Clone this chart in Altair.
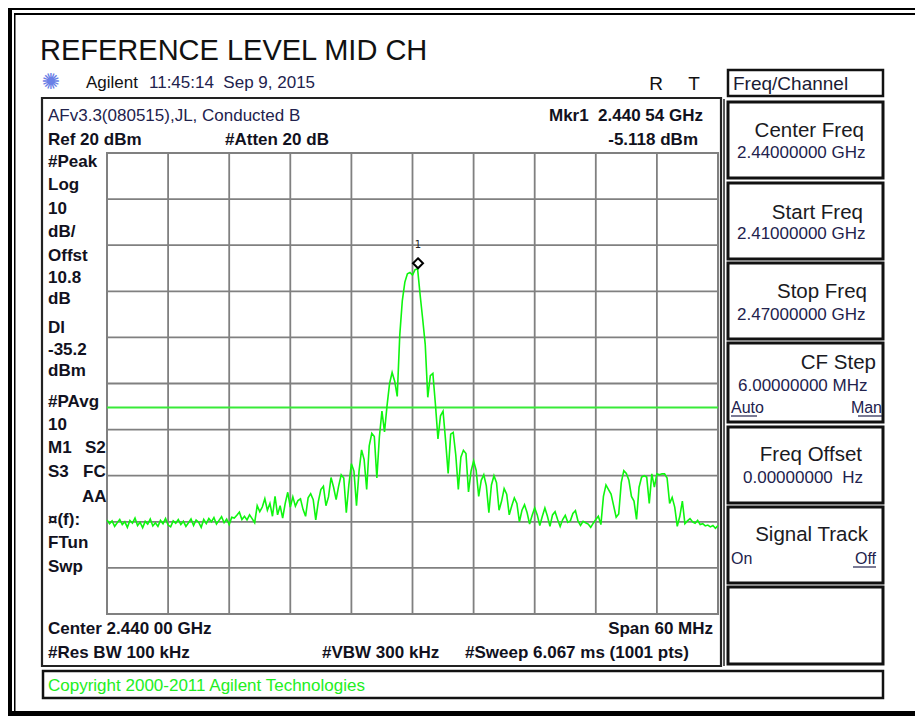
import altair as alt
import pandas as pd

START_MHZ = 2410.0
STOP_MHZ = 2470.0
STEP_MHZ = 0.25
REF_LEVEL_DBM = 20
BOTTOM_LEVEL_DBM = -80
X_GRID_MHZ = [2410, 2416, 2422, 2428, 2434, 2440, 2446, 2452, 2458, 2464, 2470]
Y_GRID_DBM = [-80, -70, -60, -50, -40, -30, -20, -10, 0, 10, 20]
DISPLAY_LINE_DBM = -35.2
MARKER_FREQ_MHZ = [2440.54]
MARKER_LEVEL_DBM = [-5.118]
MARKER_NAME = ["1"]

LEVEL_DBM = [
    -59.6, -60.4, -59.8, -61.0, -60.2, -59.5, -60.6, -60.0, -61.2, -59.7,
    -60.3, -59.2, -60.8, -60.1, -61.3, -59.9, -60.5, -59.4, -60.9, -60.2,
    -61.0, -59.7, -60.4, -59.3, -60.7, -61.1, -59.8, -60.3, -59.5, -60.6,
    -59.9, -61.0, -60.2, -59.4, -60.8, -59.6, -60.1, -61.2, -59.5, -60.4,
    -59.3, -60.0, -59.1, -60.5, -59.7, -58.9, -60.2, -59.4, -60.6, -59.0,
    -59.2, -58.6, -57.9, -59.5, -58.8, -59.6, -58.5, -59.3, -60.2, -56.5,
    -57.8, -56.8, -55.0, -57.5, -56.0, -58.8, -54.5, -58.5, -56.5, -59.2,
    -56.0, -53.6, -56.8, -54.6, -56.6, -55.4, -55.0, -57.3, -58.8, -54.8,
    -53.9, -55.2, -59.6, -55.6, -53.0, -52.3, -56.5, -54.6, -50.4, -52.5,
    -55.2, -52.2, -49.8, -50.5, -58.0, -52.0, -47.4, -49.0, -56.5, -49.0,
    -44.4, -46.5, -53.0, -43.5, -40.8, -41.5, -50.5, -41.5, -36.0, -40.5,
    -34.8, -30.0, -27.6, -29.5, -32.8, -19.5, -12.0, -8.0, -6.2, -5.9,
    -6.5, -5.3, -5.12, -10.8, -16.0, -21.5, -33.0, -28.3, -27.8, -34.5,
    -42.0, -37.0, -36.0, -42.4, -49.5, -41.0, -40.6, -45.5, -53.0, -46.0,
    -44.5, -45.2, -53.5, -49.0, -46.8, -48.8, -54.5, -51.0, -49.8, -52.2,
    -58.0, -52.0, -50.0, -51.5, -57.5, -55.5, -52.8, -54.0, -58.5, -56.5,
    -54.8, -56.0, -60.0, -57.5, -56.3, -58.0, -60.5, -58.6, -57.0, -58.5,
    -60.8, -58.8, -57.0, -58.8, -61.0, -58.5, -57.8, -59.5, -61.0, -59.5,
    -58.6, -60.1, -59.8, -58.2, -57.6, -59.8, -60.8, -59.9, -60.2, -60.5,
    -61.2, -60.3, -59.5, -58.8, -60.6, -54.5, -52.0, -53.0, -54.0, -56.5,
    -59.0, -58.3, -51.5, -48.9, -49.5, -51.0, -54.5, -55.5, -59.5, -52.5,
    -50.3, -50.0, -50.3, -56.0, -49.6, -52.5, -49.6, -49.8, -49.6, -49.6,
    -50.5, -56.0, -54.7, -56.8, -61.0, -58.8, -55.5, -60.4, -59.8, -59.3,
    -60.0, -60.3, -59.7, -60.6, -60.4, -60.9, -60.7, -61.1, -60.8, -61.4, -60.8,
]

LEFT_ANNOTATIONS = ["#Peak", "Log", "10", "dB/", "Offst", "10.8", "dB", "Dl", "-35.2", "dBm",
                    "#PAvg", "10", "M1", "S3", "\u00a4(f):", "FTun", "Swp"]

# ---------------- layout (pixels of the screen picture) ----------------
PLOT_LEFT, PLOT_TOP, PLOT_W, PLOT_H = 107, 153, 611, 461
FONT = "Liberation Sans"
TEXT_DARK = "#111120"
VALUE_BLUE = "#22224d"
GREEN_TRACE = "#0ff50f"
GREEN_DL = "#38ea38"
GRID = "#808080"
NB = "\u00a0"

freqs = [START_MHZ + i * STEP_MHZ for i in range(len(LEVEL_DBM))]
trace_df = pd.DataFrame({"freq": freqs, "level": LEVEL_DBM})
marker_df = pd.DataFrame({"freq": MARKER_FREQ_MHZ, "level": MARKER_LEVEL_DBM, "name": MARKER_NAME})
dl_df = pd.DataFrame({"level": [DISPLAY_LINE_DBM]})
gx_df = pd.DataFrame({"freq": X_GRID_MHZ})
gy_df = pd.DataFrame({"level": Y_GRID_DBM})
ANCHOR = pd.DataFrame({"k": [0]})

xs = alt.Scale(domain=[START_MHZ, STOP_MHZ], nice=False, zero=False)
ys = alt.Scale(domain=[BOTTOM_LEVEL_DBM, REF_LEVEL_DBM], nice=False, zero=False)


def rx(x):
    return x - PLOT_LEFT


def ry(y):
    return y - PLOT_TOP


def label(s, x, y, size=17, bold=False, color=TEXT_DARK, align="left", font=FONT):
    return alt.Chart(ANCHOR).mark_text(
        text=s, align=align, baseline="middle", fontSize=size,
        fontWeight="bold" if bold else "normal", color=color, font=font
    ).encode(x=alt.value(rx(x)), y=alt.value(ry(y)))


def box(x0, y0, x1, y1, width=2.5, color="#111111"):
    return alt.Chart(ANCHOR).mark_rect(fillOpacity=0, stroke=color, strokeWidth=width).encode(
        x=alt.value(rx(x0)), x2=alt.value(rx(x1)), y=alt.value(ry(y0)), y2=alt.value(ry(y1)))


def solid(x0, y0, x1, y1, color="#000000"):
    return alt.Chart(ANCHOR).mark_rect(color=color, opacity=1).encode(
        x=alt.value(rx(x0)), x2=alt.value(rx(x1)), y=alt.value(ry(y0)), y2=alt.value(ry(y1)))


def hline(x0, x1, y, width=1.2, color=TEXT_DARK):
    return alt.Chart(ANCHOR).mark_rule(color=color, strokeWidth=width).encode(
        x=alt.value(rx(x0)), x2=alt.value(rx(x1)), y=alt.value(ry(y)))


layers = []

# outer frame
layers += [
    solid(7, 5, 12, 720), solid(14, 13, 15.5, 720),
    solid(7, 5, 930, 10), solid(14, 13, 930, 15),
    solid(7, 711, 930, 716),
]

# screen box and soft-key boxes
layers.append(box(42, 98, 721, 666, width=2.2, color="#222222"))
layers.append(alt.Chart(ANCHOR).mark_rule(color="#222222", strokeWidth=1.5).encode(
    x=alt.value(rx(724)), y=alt.value(ry(99)), y2=alt.value(ry(666))))
layers.append(box(728, 70, 883, 96, width=2.5))
for (y0, y1) in [(102, 178), (183, 259), (263, 339), (343, 422), (427, 503), (507, 583), (587, 664)]:
    layers.append(box(728, y0, 883, y1, width=3))
layers.append(box(43, 671, 883, 698, width=2.5))

# graticule, display line, trace and marker
grid_x = alt.Chart(gx_df).mark_rule(color=GRID, strokeWidth=1.8).encode(
    x=alt.X("freq:Q", scale=xs, axis=None))
grid_y = alt.Chart(gy_df).mark_rule(color=GRID, strokeWidth=1.8).encode(
    y=alt.Y("level:Q", scale=ys, axis=None))
dline = alt.Chart(dl_df).mark_rule(color=GREEN_DL, strokeWidth=2).encode(
    y=alt.Y("level:Q", scale=ys, axis=None))
trace = alt.Chart(trace_df).mark_line(color=GREEN_TRACE, strokeWidth=1.6).encode(
    x=alt.X("freq:Q", scale=xs, axis=None),
    y=alt.Y("level:Q", scale=ys, axis=None),
)
marker = alt.Chart(marker_df).mark_point(
    shape="M0,-2.1L1,-1.1L0,-0.1L-1,-1.1Z", size=100, filled=False,
    stroke="#000000", strokeWidth=2, opacity=1
).encode(x=alt.X("freq:Q", scale=xs, axis=None), y=alt.Y("level:Q", scale=ys, axis=None))
marker_txt = alt.Chart(marker_df).mark_text(
    dy=-24, fontSize=10, font="DejaVu Sans", color="#222222", baseline="middle"
).encode(x=alt.X("freq:Q", scale=xs, axis=None), y=alt.Y("level:Q", scale=ys, axis=None),
         text="name:N")
layers += [grid_x, grid_y, dline, trace, marker, marker_txt]

# header
layers += [
    label("REFERENCE LEVEL MID CH", 40, 51, size=29, color="#111111"),
    label("\u273a", 51, 82, size=22, color="#6a80e6", align="center", font="DejaVu Sans"),
    label("Agilent", 86, 83, size=17, color="#111111"),
    label("11:45:14" + NB + NB + "Sep 9, 2015", 149, 83, size=17, color=VALUE_BLUE),
    label("R", 656, 84, size=19, color="#111111", align="center"),
    label("T", 694, 84, size=19, color="#111111", align="center"),
]

# screen annotations
layers += [
    label("AFv3.3(080515),JL, Conducted B", 48, 116, size=17, color=VALUE_BLUE),
    label("Mkr1" + NB + NB + "2.440 54 GHz", 703, 116, bold=True, align="right"),
    label("Ref 20 dBm", 48, 140, bold=True),
    label("#Atten 20 dB", 225, 140, bold=True),
    label("-5.118 dBm", 698, 140, bold=True, align="right"),
]
left_y = [162, 185, 208.5, 232, 256, 278, 299, 328, 350, 371, 402, 425, 448, 472, 520, 543, 567]
for s, y in zip(LEFT_ANNOTATIONS, left_y):
    layers.append(label(s, 48, y, bold=True))
layers += [
    label("S2", 85, 448, bold=True),
    label("FC", 83, 472, bold=True),
    label("AA", 82, 497, bold=True),
    label("Center 2.440 00 GHz", 48, 629, bold=True),
    label("Span 60 MHz", 713, 629, bold=True, align="right"),
    label("#Res BW 100 kHz", 48, 653, bold=True),
    label("#VBW 300 kHz", 322, 653, bold=True),
    label("#Sweep 6.067 ms (1001 pts)", 465, 653, bold=True),
    label("Copyright 2000-2011 Agilent Technologies", 48, 686, size=17, color="#22ee22"),
]

# soft keys
layers += [
    label("Freq/Channel", 733, 84, size=19, color="#1a1a33"),
    label("Center Freq", 864, 131, size=20.5, color="#1a1a22", align="right"),
    label("2.44000000 GHz", 737, 153, size=17, color=VALUE_BLUE),
    label("Start Freq", 863, 213, size=20.5, color="#1a1a22", align="right"),
    label("2.41000000 GHz", 737, 234, size=17, color=VALUE_BLUE),
    label("Stop Freq", 867, 292, size=20.5, color="#1a1a22", align="right"),
    label("2.47000000 GHz", 737, 315, size=17, color=VALUE_BLUE),
    label("CF Step", 876, 363, size=20.5, color="#1a1a22", align="right"),
    label("6.00000000 MHz", 738, 386, size=17, color=VALUE_BLUE),
    label("Auto", 731, 408, size=16, color=VALUE_BLUE),
    label("Man", 882, 408, size=16, color=VALUE_BLUE, align="right"),
    hline(731, 757, 416, 1.2, VALUE_BLUE),
    hline(858, 882, 416, 1.2, VALUE_BLUE),
    label("Freq Offset", 862, 455, size=20.5, color="#1a1a22", align="right"),
    label("0.00000000" + NB + NB + "Hz", 743, 478, size=17, color=VALUE_BLUE),
    label("Signal Track", 868, 535, size=20.5, color="#1a1a22", align="right"),
    label("On", 731, 559, size=16, color=VALUE_BLUE),
    label("Off", 876, 559, size=16, color=VALUE_BLUE, align="right"),
    hline(853, 876, 567, 1.2, VALUE_BLUE),
]

chart = alt.layer(*layers).properties(
    width=PLOT_W, height=PLOT_H,
    padding={"left": 99, "top": 145, "right": 197, "bottom": 102},
    autosize=alt.AutoSizeParams(type="none"),
    background="white",
).configure_view(stroke=GRID, strokeWidth=2)

chart.save("out.html", embed_options={"renderer": "svg", "actions": False})
